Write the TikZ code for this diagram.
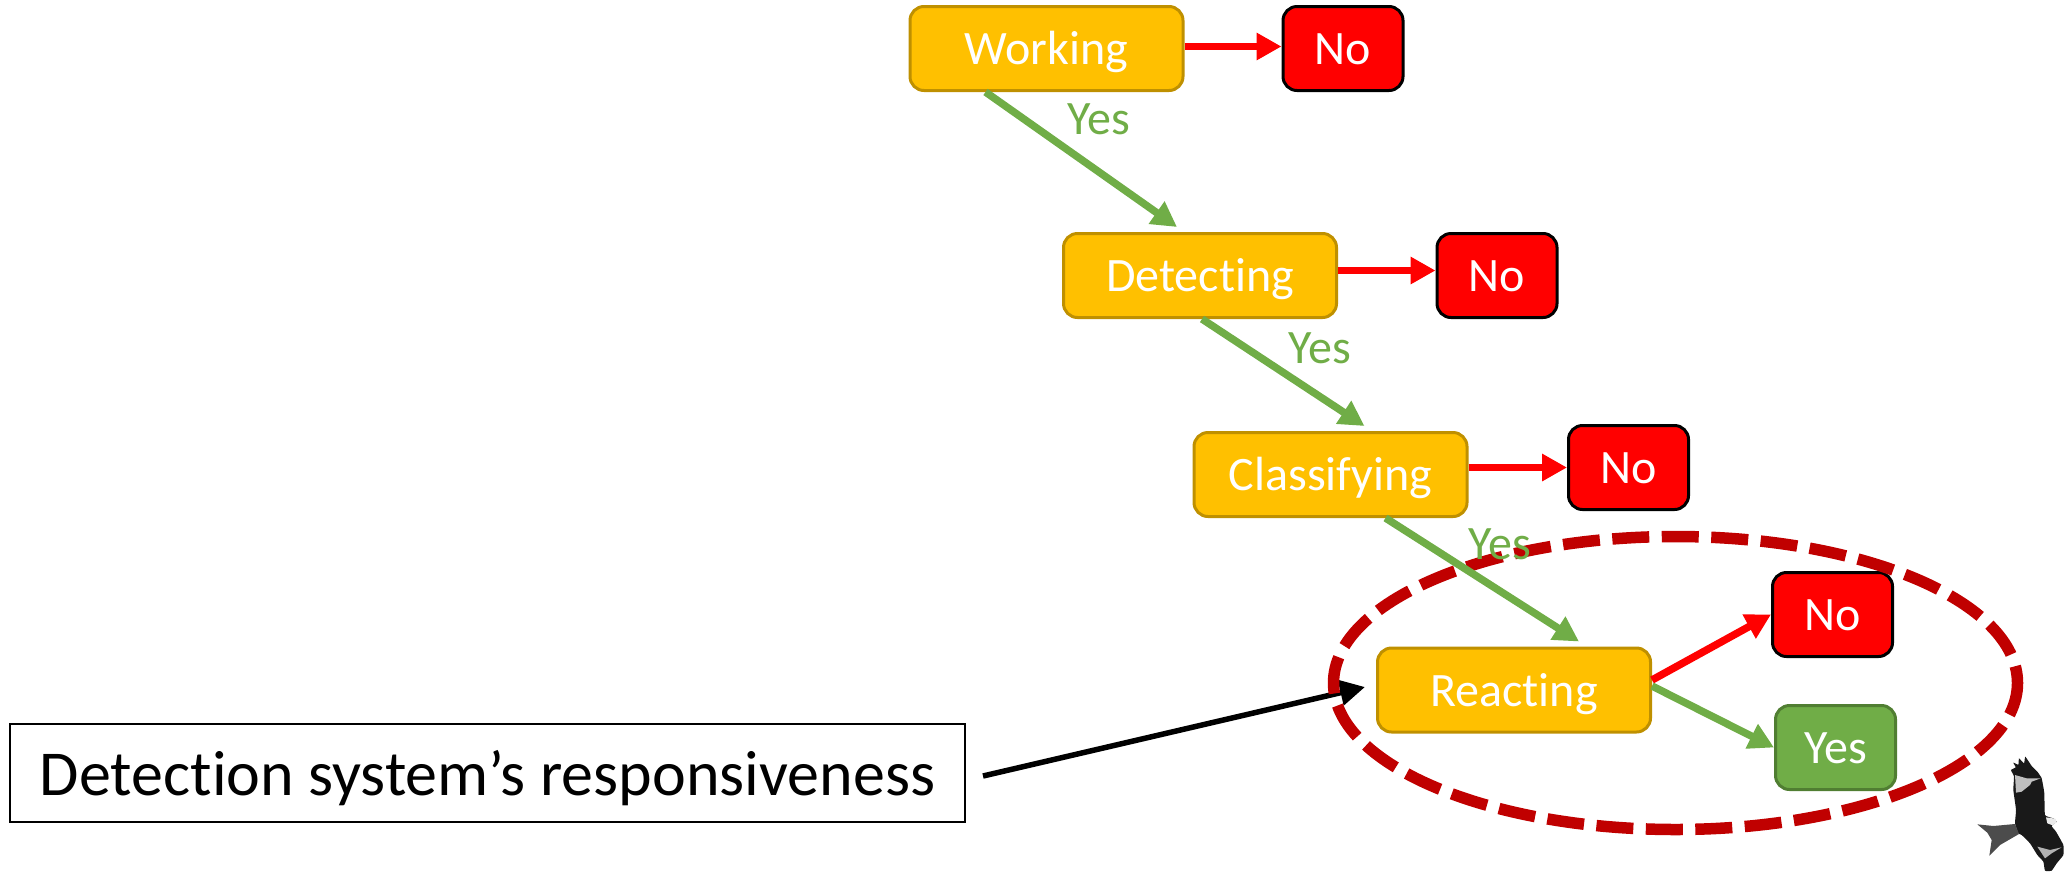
\documentclass[tikz,border=0pt]{standalone}
\usepackage{fontspec}
\setmainfont[Ligatures=NoCommon,Contextuals=NoAlternate]{Carlito}
\usetikzlibrary{arrows.meta,shapes.geometric}
\definecolor{amber}{HTML}{FFC000}
\definecolor{amberline}{HTML}{BF9000}
\definecolor{leaf}{HTML}{70AD47}
\definecolor{leafline}{HTML}{507E32}
\definecolor{rim}{HTML}{C00000}
\tikzset{
 x=1pt,y=-1pt,
 basebox/.style={rounded corners=14pt,line width=3pt,inner sep=0pt,text=white,text height=32pt,text depth=0pt,font=\fontsize{48}{48}\selectfont},
 stagebox/.style={basebox,draw=amberline,fill=amber,minimum width=273pt,minimum height=84pt},
 nobox/.style={basebox,draw=black,fill=red,minimum width=120pt,minimum height=84pt},
 yesbox/.style={basebox,draw=leafline,fill=leaf,minimum width=120pt,minimum height=84pt},
 yeslabel/.style={text=leaf,font=\fontsize{48}{48}\selectfont,inner sep=0pt},
 greenarrow/.style={draw=leaf,line width=7.5pt,-{Triangle[length=25pt,width=26pt]}},
 redarrow/.style={draw=red,line width=7.5pt,-{Triangle[length=25pt,width=26pt]}},
 blackarrow/.style={draw=black,line width=5.5pt,-{Triangle[length=25pt,width=25pt]}},
 zone/.style={ellipse,draw=rim,line width=11.5pt,dash pattern=on 37pt off 12.5pt,dash phase=20pt,minimum width=684pt,minimum height=293pt,inner sep=0pt},
}
\begin{document}
\begin{tikzpicture}
\useasboundingbox (0,0) rectangle (2069,871);
\node[stagebox] (working) at (1046.5,48.5) {Working};
\node[nobox] (no1) at (1343,48.5) {No};
\node[stagebox] (detecting) at (1200,275.5) {Detecting};
\node[nobox] (no2) at (1497,275.5) {No};
\node[stagebox] (classifying) at (1330.5,474.5) {Classifying};
\node[nobox] (no3) at (1628.5,467.5) {No};
\node[stagebox] (reacting) at (1514,690) {Reacting};
\node[nobox] (no4) at (1832.5,614.5) {No};
\node[yesbox] (yes4) at (1835.5,747.5) {Yes};
\node[draw=black,line width=2pt,minimum width=955pt,minimum height=98pt,inner sep=0pt,text height=45pt,text depth=0pt,font=\fontsize{64}{64}\selectfont] (caption) at (487.5,773) {Detection system’s responsiveness};

\draw[blackarrow] ([xshift=17pt,yshift=-3pt]caption.east) -- ([xshift=-11pt,yshift=3pt]reacting.west);
\node[zone] (ring) at (1675.5,683) {};

\draw[greenarrow] ([xshift=-61pt]working.south) -- ([xshift=-23pt,yshift=5pt]detecting.north);
\draw[greenarrow] ([xshift=2pt]detecting.south) -- ([xshift=34pt,yshift=5pt]classifying.north);
\draw[greenarrow] ([xshift=55pt]classifying.south) -- ([xshift=65pt,yshift=5pt]reacting.north);
\draw[redarrow] ([yshift=2pt]working.east) -- ([yshift=2pt]no1.west);
\draw[redarrow] ([yshift=5pt]detecting.east) -- ([yshift=5pt]no2.west);
\draw[redarrow] ([yshift=7pt]classifying.east) -- (no3.west);
\draw[redarrow] ([yshift=10pt]reacting.east) -- (no4.west);
\draw[greenarrow] ([yshift=4pt]reacting.east) -- (yes4.west);

\node[yeslabel] (yes1) at (1099,119) {Yes};
\node[yeslabel] (yes2) at (1320,348) {Yes};
\node[yeslabel] (yes3) at (1500,544) {Yes};

% red kite
\begin{scope}[shift={(1950,740)},x=0.3333pt,y=-0.3333pt]
\fill[black!90] plot[smooth cycle,tension=0.25] coordinates {(183,90)(197,82)(190,68)(205,74)(207,55)(222,70)(226,50)(245,78)(262,95)(275,115)(283,160)(285,225)(310,235)(320,245)(305,258)(318,275)(340,315)(340,345)(320,370)(305,392)(285,392)(280,365)(262,345)(240,310)(215,285)(205,280)(195,250)(198,210)(190,150)(192,110)};
\fill[black!70] (82,253) -- (130,258) -- (195,252) -- (207,282) -- (150,315) -- (118,347) -- (125,300) -- (112,278) -- cycle;
\fill[black!25] (195,105) -- (230,115) -- (272,115) -- (245,125) -- (240,135) -- (215,155) -- (198,158) -- cycle;
\fill[black!30] (262,320) -- (300,330) -- (335,322) -- (305,340) -- (285,355) -- cycle;
\fill[black!8] (288,232) -- (316,236) -- (320,246) -- (308,256) -- (292,250) -- cycle;
\end{scope}
\end{tikzpicture}
\end{document}
